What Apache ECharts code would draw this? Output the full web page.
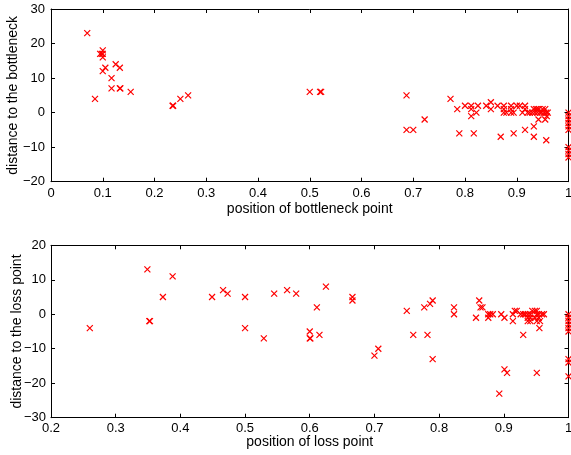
<!DOCTYPE html>
<html><head><meta charset="utf-8">
<script src="https://cdn.jsdelivr.net/npm/echarts@6/dist/echarts.min.js"></script>
<style>html,body{margin:0;padding:0;background:#fff}#c{width:571px;height:455px}</style>
</head><body><div id="c"></div>
<script>
// Top panel: position of bottleneck point vs distance to the bottleneck
const topX = [0.07,0.085,0.095,0.098,0.1,0.1,0.1,0.1,0.105,0.117,0.117,0.125,0.133,0.133,0.134,0.154,0.235,0.236,0.25,0.265,0.5,0.52,0.522,
  0.687,0.687,0.7,0.722,0.772,0.785,0.789,0.8,0.812,0.812,0.812,0.817,0.822,0.825,0.841,0.85,0.85,0.863,0.869,0.875,0.875,0.875,0.88,0.889,0.889,0.889,0.894,0.894,0.9,0.906,0.911,0.916,0.916,0.916,0.921,
  0.925,0.93,0.933,0.935,0.937,0.94,0.94,0.943,0.945,0.948,0.95,0.953,0.955,0.957,0.958,0.96,0.933,0.933,0.942,0.955,0.957,
  1,1,1,1,1,1,1,1,1,1];
const topY = [23,4,17,17,18,17,16,12,13,10,7,14,13,7,7,6,2,2,4,5,6,6,6,
  5,-5,-5,-2,4,1,-6,2,2,1,-1,-6,0,2,2,3,1,2,-7,2,1,0,0,2,1,0,-6,0,2,2,0,2,1,-5,0,
  0,0,1,0,1,0,1,1,0,0,1,0,1,0,-1,0,-4,-7,-2,-2,-8,
  0,-1,-2,-3,-4,-5,-10,-11,-12,-13];

// Bottom panel: position of loss point vs distance to the loss point
const botX = [0.26,0.349,0.352,0.353,0.373,0.388,0.449,0.466,0.473,0.5,0.5,0.529,0.545,0.565,0.579,0.6,0.6,0.601,0.611,0.615,0.625,0.666,0.666,0.7,0.706,0.75,0.76,0.777,0.782,0.786,0.79,0.79,0.823,0.823,0.857,0.862,0.864,0.867,0.876,0.876,0.879,0.883,0.893,0.896,0.901,0.901,0.905,0.914,0.914,0.917,0.92,0.926,0.93,0.933,0.937,0.937,0.937,0.941,0.941,0.941,0.944,0.948,0.948,0.951,0.951,0.951,0.954,0.954,0.956,0.959,0.962,0.93,0.955,0.951,
  1,1,1,1,1,1,1,1,1];
const botY = [-4,13,-2,-2,5,11,5,7,6,5,-4,-7,6,7,6,-5,-7,-7,2,-6,8,5,4,-12,-10,1,-6,2,-6,3,4,-13,2,0,-1,4,2,2,0,-1,0,0,-23,0,-1,-16,-17,0,-2,1,1,0,0,0,0,-1,-2,0,-1,-2,1,1,-1,1,0,-2,0,-1,-2,0,0,-6,-4,-17,
  0,-1,-2,-3,-4,-5,-13,-14,-18];

const topXRange = [0, 1, 0.1];
const topYRange = [-20, 30, 10];
const botXRange = [0.2, 1, 0.1];
const botYRange = [-30, 20, 10];

const topXName = 'position of bottleneck point';
const topYName = 'distance to the bottleneck';
const botXName = 'position of loss point';
const botYName = 'distance to the loss point';

const FONT = '"Liberation Sans", Arial, Helvetica, sans-serif';
const fmt = v => String(+v.toFixed(2)).replace('-', '\u2212');

function axisPair(kind, gi, range, name, fs, nameGap, labelMargin) {
  const base = {
    type: 'value', gridIndex: gi, min: range[0], max: range[1], interval: range[2],
    splitLine: { show: false },
    axisLine: { show: true, onZero: false, lineStyle: { color: '#000', width: 1 } },
    axisTick: { show: true, inside: true, length: 4, lineStyle: { color: '#000', width: 1 } }
  };
  const main = Object.assign({}, base, {
    position: kind === 'x' ? 'bottom' : 'left',
    axisLabel: { show: true, color: '#000', fontSize: fs, fontFamily: FONT, margin: labelMargin, formatter: fmt, showMinLabel: true, showMaxLabel: true },
    name: name, nameLocation: 'middle', nameGap: nameGap, nameMoveOverlap: false,
    nameTextStyle: { color: '#000', fontSize: 14, fontFamily: FONT }
  });
  const opp = Object.assign({}, base, {
    position: kind === 'x' ? 'top' : 'right',
    axisLabel: { show: false }
  });
  return [main, opp];
}

const tx = axisPair('x', 0, topXRange, topXName, 13, 20, 5);
const ty = axisPair('y', 0, topYRange, topYName, 13, 31, 6);
const bx = axisPair('x', 1, botXRange, botXName, 13, 17, 4);
const by = axisPair('y', 1, botYRange, botYName, 13, 27, 5);

const cross = 'path://M0,0L10,10M10,0L0,10';
function scatter(xs, ys, xi, yi) {
  return {
    type: 'scatter', xAxisIndex: xi, yAxisIndex: yi,
    data: xs.map((x, i) => [x, ys[i]]),
    symbol: cross, symbolSize: 6, clip: false,
    itemStyle: { color: '#ff0000', borderColor: '#ff0000', borderWidth: 1.2, opacity: 1 },
    emphasis: { disabled: true }, silent: true, animation: false
  };
}

const chart = echarts.init(document.getElementById('c'), null, { renderer: 'canvas' });
chart.setOption({
  animation: false,
  backgroundColor: '#fff',
  tooltip: { show: false },
  grid: [
    { left: 51, right: 2.5, top: 9, height: 172.7, containLabel: false, outerBoundsMode: 'none' },
    { left: 51, right: 2.5, top: 245.3, height: 172.4, containLabel: false, outerBoundsMode: 'none' }
  ],
  xAxis: [tx[0], tx[1], bx[0], bx[1]],
  yAxis: [ty[0], ty[1], by[0], by[1]],
  series: [
    scatter(topX, topY, 0, 0),
    scatter(botX, botY, 2, 2)
  ]
});
</script>
</body></html>
